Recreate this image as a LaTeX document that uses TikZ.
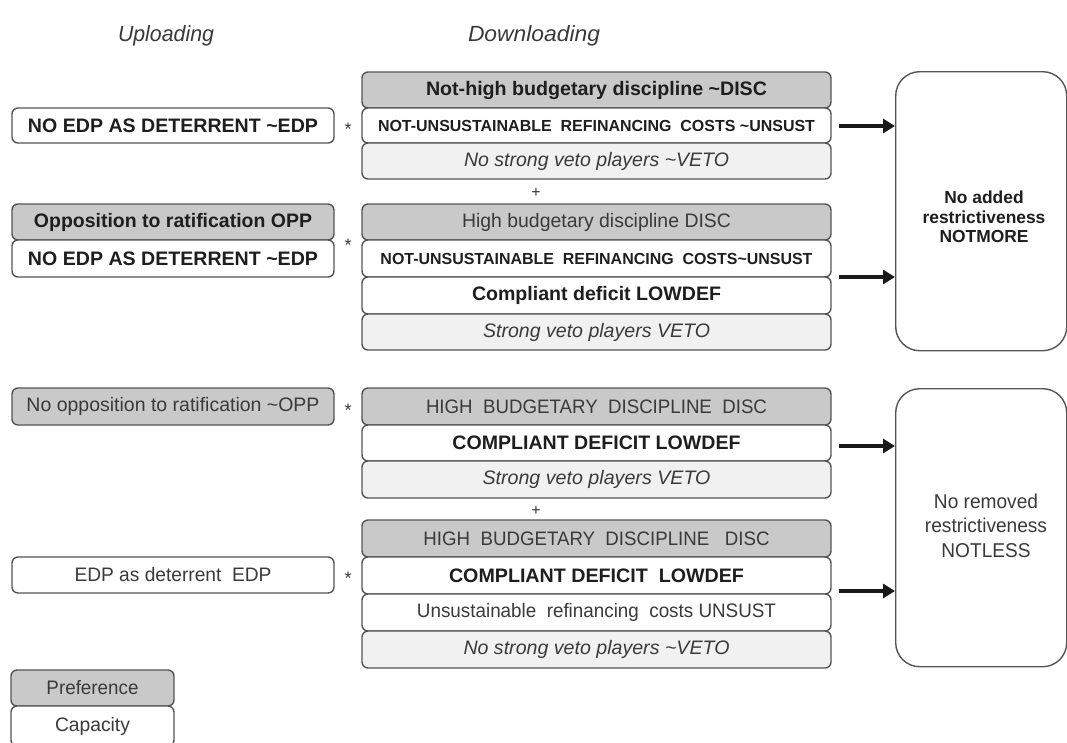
\documentclass[tikz,border=0pt]{standalone}
\usepackage{fontspec}
\setmainfont{Liberation Sans}
\usepackage{graphicx}
\usetikzlibrary{arrows.meta}
\definecolor{pgray}{HTML}{C9C9C9}
\definecolor{lgray}{HTML}{F1F1F1}
\definecolor{bcol}{HTML}{555555}
\definecolor{tdark}{HTML}{1E1E1E}
\definecolor{tmid}{HTML}{3A3A3A}
\newcommand\fw[2]{\resizebox{#1pt}{\height}{#2}}
\newcommand\tl{\textasciitilde}
\newcommand\fsz{\fontsize{19.5}{23}\selectfont}
\newcommand\fsm{\fontsize{16}{19}\selectfont}
\begin{document}
\begin{tikzpicture}[x=1pt,y=-1pt,
  base/.style={draw=bcol, line width=1.4pt, rounded corners=6pt, anchor=north west,
    inner sep=0pt, outer sep=0pt, text=tdark, font=\fsz},
  pref/.style={base, fill=pgray},
  capb/.style={base, fill=white},
  vetob/.style={base, fill=lgray},
  lw/.style={minimum width=322pt},
  mw/.style={minimum width=469pt},
  big/.style={draw=bcol, line width=1.4pt, rounded corners=24pt, fill=white,
    anchor=north west, minimum width=171pt, minimum height=279pt, inner sep=0pt},
  arr/.style={line width=4pt, draw=black!90, -{Triangle[length=12pt,width=14pt]}},
  sym/.style={text=tmid, inner sep=0pt},
  star/.style={sym, font=\fontsize{18}{18}\selectfont},
  head/.style={text=tmid, inner sep=0pt, font=\fontsize{22}{26}\selectfont\itshape}
]
\useasboundingbox[fill=white] (0,0) rectangle (1067,742);

% headers
\node[head] (hup) at (166,36) {\fw{96}{Uploading}};
\node[head] (hdown) at (534,36) {\fw{132}{Downloading}};

% ---------- upper left
\node[capb, lw, minimum height=35pt] (l1) at (12,108) {\bfseries\fw{290}{NO EDP AS DETERRENT \tl EDP}};
\node[pref, lw, minimum height=36pt] (l2) at (12,204) {\bfseries\fw{278}{Opposition to ratification OPP}};
\node[capb, lw, minimum height=37pt] (l3) at (12,240) {\bfseries\fw{290}{NO EDP AS DETERRENT \tl EDP}};

% ---------- lower left
\node[pref, lw, minimum height=37pt, text=tmid] (l4) at (12,388) {\fw{293}{No opposition to ratification \tl OPP}};
\node[capb, lw, minimum height=36pt, text=tmid] (l5) at (12,557) {\fw{197}{EDP as deterrent\ \ EDP}};

% legend
\node[pref, minimum width=163pt, minimum height=36pt, text=tmid] (lp) at (11,670) {\fw{92}{Preference}};
\node[capb, minimum width=163pt, minimum height=40pt, text=tmid] (lc) at (11,706) {\fw{75}{Capacity}};

% stars
\node[star] (s1) at (348,129) {*};
\node[star] (s2) at (348,245) {*};
\node[star] (s3) at (348,410) {*};
\node[star] (s4) at (348,578) {*};

% ---------- upper middle stack
\node[pref, mw, minimum height=36pt] (m1) at (362,72) {\bfseries\fw{341}{Not-high budgetary discipline \tl DISC}};
\node[capb, mw, minimum height=35pt, font=\fsm] (m2) at (362,108) {\bfseries\fw{437}{NOT-UNSUSTAINABLE\ \ REFINANCING\ \ COSTS \tl UNSUST}};
\node[vetob, mw, minimum height=36pt, text=tmid] (m3) at (362,143) {\itshape\fw{265}{No strong veto players \tl VETO}};
\node[sym, font=\fontsize{16}{16}\selectfont] (p1) at (536,193) {+};
\node[pref, mw, minimum height=36pt, text=tmid] (m4) at (362,204) {\fw{269}{High budgetary discipline DISC}};
\node[capb, mw, minimum height=37pt, font=\fsm] (m5) at (362,240) {\bfseries\fw{432}{NOT-UNSUSTAINABLE\ \ REFINANCING\ \ COSTS\tl UNSUST}};
\node[capb, mw, minimum height=37pt] (m6) at (362,277) {\bfseries\fw{249}{Compliant deficit LOWDEF}};
\node[vetob, mw, minimum height=36pt, text=tmid] (m7) at (362,314) {\itshape\fw{227}{Strong veto players VETO}};

% ---------- lower middle stack
\node[pref, mw, minimum height=37pt, text=tmid] (n1) at (362,388) {\fw{341}{HIGH\ \ BUDGETARY\ \ DISCIPLINE\ \ DISC}};
\node[capb, mw, minimum height=36pt] (n2) at (362,425) {\bfseries\fw{288}{COMPLIANT DEFICIT LOWDEF}};
\node[vetob, mw, minimum height=37pt, text=tmid] (n3) at (362,461) {\itshape\fw{228}{Strong veto players VETO}};
\node[sym, font=\fontsize{16}{16}\selectfont] (p2) at (536,511) {+};
\node[pref, mw, minimum height=37pt, text=tmid] (n4) at (362,520) {\fw{346}{HIGH\ \ BUDGETARY\ \ DISCIPLINE\ \ \ DISC}};
\node[capb, mw, minimum height=37pt] (n5) at (362,557) {\bfseries\fw{295}{COMPLIANT DEFICIT\ \ LOWDEF}};
\node[capb, mw, minimum height=37pt, text=tmid] (n6) at (362,594) {\fw{359}{Unsustainable\ \ refinancing\ \ costs UNSUST}};
\node[vetob, mw, minimum height=37pt, text=tmid] (n7) at (362,631) {\itshape\fw{266}{No strong veto players \tl VETO}};

% ---------- outcome boxes
\node[big] (r1) at (895,71) {};
\node[text=tdark, align=center, inner sep=0pt,
  font=\bfseries\fontsize{17.4}{19.6}\selectfont] (r1t) at (984,217) {No added\\restrictiveness\\NOTMORE};
\node[big, minimum height=278pt] (r2) at (895,388) {};
\node[text=tmid, inner sep=0pt] (r2t) at (986,528)
  {\scalebox{0.955}[1]{\fontsize{20}{24.5}\selectfont\begin{tabular}{@{}c@{}}No removed\\restrictiveness\\NOTLESS\end{tabular}}};

% ---------- arrows
\coordinate (a1) at (839,126);
\coordinate (a2) at (839,277);
\coordinate (a3) at (839,446);
\coordinate (a4) at (839,591);
\draw[arr] (a1) -- (a1 -| r1.west);
\draw[arr] (a2) -- (a2 -| r1.west);
\draw[arr] (a3) -- (a3 -| r2.west);
\draw[arr] (a4) -- (a4 -| r2.west);
\end{tikzpicture}
\end{document}
